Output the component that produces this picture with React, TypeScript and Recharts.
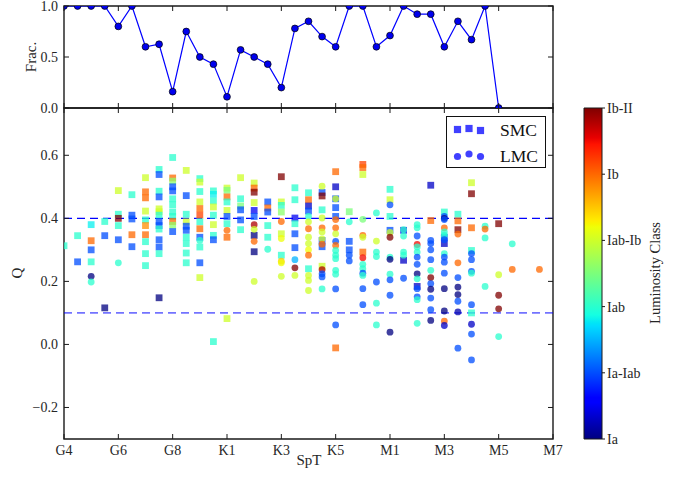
import React from 'react';
import {
  LineChart, Line, ScatterChart, Scatter, XAxis, YAxis, ReferenceLine,
  ReferenceArea, Legend, BarChart, Bar, Label,
} from 'recharts';

const FONT = '"Liberation Serif", "DejaVu Serif", serif';
const TXT = '#262626';
const AX = '#1a1a1a';

// ---------- data ----------
const sptTicks = [0, 2, 4, 6, 8, 10, 12, 14, 16, 18];
const sptTickLabels = ['G4', 'G6', 'G8', 'K1', 'K3', 'K5', 'M1', 'M3', 'M5', 'M7'];

const fracSpt = [0, 0.5, 1, 1.5, 2, 2.5, 3, 3.5, 4, 4.5, 5, 5.5, 6, 6.5, 7, 7.5, 8, 8.5, 9, 9.5, 10, 10.5, 11, 11.5, 12, 12.5, 13, 13.5, 14, 14.5, 15, 15.5, 16];
const fracValues = [1, 1, 1, 1, 0.8, 1, 0.6, 0.625, 0.16, 0.75, 0.5, 0.43, 0.11, 0.57, 0.5, 0.43, 0.2, 0.78, 0.85, 0.7, 0.6, 1, 1, 0.6, 0.71, 1, 0.92, 0.92, 0.6, 0.85, 0.67, 1, 0];
const fracTicks = [0, 0.5, 1];

const qTicks = [-0.2, 0, 0.2, 0.4, 0.6];
const qThresholds = [0.4, 0.1];

const lumTicks = [0, 1, 2, 3, 4, 5];
const lumLabels = ['Ia', 'Ia-Iab', 'Iab', 'Iab-Ib', 'Ib', 'Ib-II'];

const seriesNames = ['SMC', 'LMC'];

// [SpT index, Q, luminosity class]
const smcPoints: [number, number, number][] = [
  [0, 0.313, 2],
  [0.5, 0.345, 2], [0.5, 0.262, 1],
  [1, 0.38, 1.8], [1, 0.329, 4], [1, 0.30, 1], [1, 0.262, 2],
  [1.5, 0.39, 2], [1.5, 0.345, 1], [1.5, 0.116, 0],
  [2, 0.488, 3], [2, 0.413, 2], [2, 0.40, 5], [2, 0.377, 2], [2, 0.332, 1],
  [2.5, 0.475, 2], [2.5, 0.41, 1], [2.5, 0.398, 1], [2.5, 0.348, 4], [2.5, 0.31, 1],
  [3, 0.529, 3], [3, 0.484, 4], [3, 0.465, 4], [3, 0.423, 3], [3, 0.395, 2], [3, 0.377, 3.8], [3, 0.348, 4], [3, 0.326, 2], [3, 0.288, 2], [3, 0.25, 2],
  [3.5, 0.555, 2], [3.5, 0.539, 1], [3.5, 0.486, 2], [3.5, 0.468, 1], [3.5, 0.43, 3], [3.5, 0.421, 3], [3.5, 0.41, 2], [3.5, 0.39, 1], [3.5, 0.377, 1], [3.5, 0.366, 2], [3.5, 0.332, 1], [3.5, 0.309, 1], [3.5, 0.288, 2], [3.5, 0.148, 0],
  [4, 0.593, 2], [4, 0.528, 4], [4, 0.518, 2.6], [4, 0.5, 1], [4, 0.487, 1], [4, 0.462, 2], [4, 0.443, 2], [4, 0.42, 2], [4, 0.406, 2], [4, 0.39, 4], [4, 0.378, 2.6], [4, 0.358, 1],
  [4.5, 0.552, 3], [4.5, 0.472, 1], [4.5, 0.413, 2], [4.5, 0.389, 3], [4.5, 0.375, 1], [4.5, 0.362, 1], [4.5, 0.34, 2], [4.5, 0.32, 2], [4.5, 0.29, 2], [4.5, 0.259, 2],
  [5, 0.526, 2], [5, 0.515, 3], [5, 0.485, 2], [5, 0.452, 3], [5, 0.431, 4], [5, 0.41, 4.2], [5, 0.389, 2], [5, 0.367, 4], [5, 0.34, 1], [5, 0.309, 2], [5, 0.259, 1], [5, 0.212, 3],
  [5.5, 0.487, 2], [5.5, 0.476, 1.8], [5.5, 0.455, 2], [5.5, 0.436, 3], [5.5, 0.41, 2], [5.5, 0.38, 3], [5.5, 0.346, 2], [5.5, 0.332, 1], [5.5, 0.009, 2],
  [6, 0.496, 3], [6, 0.489, 2.5], [6, 0.468, 4], [6, 0.452, 2], [6, 0.425, 3], [6, 0.406, 1], [6, 0.383, 2], [6, 0.34, 4], [6, 0.082, 3],
  [6.5, 0.529, 3], [6.5, 0.462, 2], [6.5, 0.439, 2.5], [6.5, 0.427, 1], [6.5, 0.395, 1], [6.5, 0.364, 2],
  [7, 0.512, 3], [7, 0.496, 4], [7, 0.483, 5], [7, 0.45, 3], [7, 0.425, 0.5], [7, 0.406, 1], [7, 0.346, 0], [7, 0.294, 0],
  [7.5, 0.452, 1], [7.5, 0.433, 4], [7.5, 0.42, 1], [7.5, 0.377, 2], [7.5, 0.34, 2],
  [8, 0.532, 5], [8, 0.452, 3], [8, 0.441, 2], [8, 0.42, 2.6], [8, 0.351, 3], [8, 0.283, 2],
  [8.5, 0.497, 2], [8.5, 0.459, 2], [8.5, 0.401, 0.5], [8.5, 0.383, 2], [8.5, 0.351, 1], [8.5, 0.307, 1],
  [9, 0.481, 2], [9, 0.459, 4], [9, 0.439, 0.3], [9, 0.423, 1], [9, 0.24, 2],
  [9.5, 0.482, 1], [9.5, 0.471, 5], [9.5, 0.427, 2], [9.5, 0.33, 1], [9.5, 0.31, 1], [9.5, 0.248, 3],
  [10, 0.548, 4], [10, 0.5, 0.3], [10, 0.462, 1], [10, 0.434, 1], [10, 0.406, 1], [10, -0.011, 4],
  [10.5, 0.421, 2.5], [10.5, 0.327, 1], [10.5, 0.30, 1],
  [11, 0.571, 4.2], [11, 0.561, 4], [11, 0.539, 3], [11, 0.293, 4],
  [12, 0.492, 2], [12, 0.459, 3], [12, 0.406, 2], [12, 0.362, 1],
  [12.5, 0.362, 0.5], [12.5, 0.267, 0.3],
  [13, 0.184, 0.3],
  [13.5, 0.505, 0.3], [13.5, 0.393, 4],
  [14, 0.42, 2], [14, 0.34, 1], [14, 0.32, 0.3],
  [14.5, 0.413, 2], [14.5, 0.392, 4], [14.5, 0.364, 5],
  [15, 0.513, 3], [15, 0.478, 5], [15, 0.37, 4], [15, 0.298, 2], [15, 0.1, 2],
  [16, 0.383, 5],
];

const lmcPoints: [number, number, number][] = [
  [1, 0.216, 0], [1, 0.198, 2],
  [2, 0.259, 2],
  [5, 0.33, 2],
  [6, 0.362, 4],
  [7, 0.38, 4.8], [7, 0.365, 3], [7, 0.327, 4], [7, 0.2, 3],
  [7.5, 0.302, 2],
  [8, 0.39, 4], [8, 0.336, 3.2], [8, 0.264, 3.5], [8, 0.259, 3.2], [8, 0.216, 3],
  [8.5, 0.269, 1.5], [8.5, 0.243, 5], [8.5, 0.219, 3],
  [9, 0.406, 2], [9, 0.389, 3], [9, 0.367, 4], [9, 0.34, 3], [9, 0.32, 3], [9, 0.3, 3.2], [9, 0.283, 4], [9, 0.219, 3], [9, 0.203, 3], [9, 0.171, 3],
  [9.5, 0.502, 3], [9.5, 0.401, 3], [9.5, 0.37, 4], [9.5, 0.357, 3], [9.5, 0.335, 3], [9.5, 0.318, 4], [9.5, 0.237, 4.8], [9.5, 0.224, 1], [9.5, 0.214, 1], [9.5, 0.176, 2],
  [10, 0.462, 3], [10, 0.396, 4], [10, 0.37, 4], [10, 0.351, 3], [10, 0.327, 1], [10, 0.314, 4], [10, 0.298, 2], [10, 0.283, 2], [10, 0.272, 2], [10, 0.235, 2], [10, 0.223, 2], [10, 0.176, 1], [10, 0.062, 1],
  [10.5, 0.389, 2], [10.5, 0.283, 1], [10.5, 0.265, 1],
  [11, 0.397, 2.5], [11, 0.346, 4], [11, 0.34, 3], [11, 0.275, 4.5], [11, 0.254, 2], [11, 0.24, 2], [11, 0.226, 1], [11, 0.219, 2], [11, 0.177, 1], [11, 0.126, 1],
  [11.5, 0.417, 2], [11.5, 0.328, 3], [11.5, 0.293, 2], [11.5, 0.279, 2], [11.5, 0.198, 1], [11.5, 0.131, 2], [11.5, 0.062, 2],
  [12, 0.443, 1], [12, 0.355, 3], [12, 0.34, 5], [12, 0.277, 2], [12, 0.27, 0], [12, 0.223, 2], [12, 0.205, 1], [12, 0.156, 1], [12, 0.039, 0],
  [12.5, 0.364, 2], [12.5, 0.344, 2], [12.5, 0.293, 2], [12.5, 0.283, 2], [12.5, 0.21, 1],
  [13, 0.38, 2], [13, 0.37, 2], [13, 0.344, 1], [13, 0.317, 4.5], [13, 0.309, 2], [13, 0.293, 2], [13, 0.277, 1], [13, 0.254, 1], [13, 0.224, 0], [13, 0.208, 2], [13, 0.177, 1], [13, 0.151, 1], [13, 0.142, 2], [13, 0.067, 2],
  [13.5, 0.33, 1], [13.5, 0.32, 1], [13.5, 0.3, 1], [13.5, 0.269, 1], [13.5, 0.235, 2], [13.5, 0.212, 5], [13.5, 0.193, 1], [13.5, 0.175, 0], [13.5, 0.147, 1], [13.5, 0.11, 1], [13.5, 0.076, 0],
  [14, 0.406, 1], [14, 0.4, 0], [14, 0.396, 1], [14, 0.37, 4], [14, 0.357, 2], [14, 0.346, 2], [14, 0.332, 1], [14, 0.288, 2], [14, 0.277, 1], [14, 0.261, 1], [14, 0.226, 1], [14, 0.177, 0], [14, 0.106, 0], [14, 0.074, 4], [14, 0.06, 0.3],
  [14.5, 0.35, 4], [14.5, 0.259, 4], [14.5, 0.212, 1], [14.5, 0.182, 0], [14.5, 0.158, 0], [14.5, 0.137, 1], [14.5, 0.103, 0.2], [14.5, -0.012, 1],
  [15, 0.288, 1], [15, 0.269, 1], [15, 0.232, 1], [15, 0.226, 2], [15, 0.126, 1], [15, 0.064, 0.3], [15, 0.033, 1], [15, -0.049, 1],
  [15.5, 0.375, 2], [15.5, 0.366, 4], [15.5, 0.338, 2], [15.5, 0.184, 2],
  [16, 0.221, 3], [16, 0.156, 5], [16, 0.113, 5], [16, 0.025, 2],
  [16.5, 0.319, 2], [16.5, 0.238, 4],
  [17.5, 0.238, 4],
];

// ---------- helpers ----------
const fracData = fracSpt.map((s, i) => ({ spt: s, frac: fracValues[i] }));
const toObj = (arr: [number, number, number][]) => arr.map(([spt, q, lc]) => ({ spt, q, lc }));
const smcData = toObj(smcPoints);
const lmcData = toObj(lmcPoints);

const JR: [number, number][] = [[0, 0], [0.35, 0], [0.66, 1], [0.89, 1], [1, 0.5]];
const JG: [number, number][] = [[0, 0], [0.125, 0], [0.375, 1], [0.64, 1], [0.91, 0], [1, 0]];
const JB: [number, number][] = [[0, 0.5], [0.11, 1], [0.34, 1], [0.65, 0], [1, 0]];
function interp(pts: [number, number][], t: number) {
  for (let i = 0; i < pts.length - 1; i++) {
    const [x0, y0] = pts[i];
    const [x1, y1] = pts[i + 1];
    if (t <= x1) return y0 + ((y1 - y0) * (t - x0)) / (x1 - x0);
  }
  return pts[pts.length - 1][1];
}
function jet(t: number) {
  const c = Math.max(0, Math.min(1, t));
  const r = Math.round(interp(JR, c) * 255);
  const g = Math.round(interp(JG, c) * 255);
  const b = Math.round(interp(JB, c) * 255);
  return `rgb(${r},${g},${b})`;
}
const lumMax = lumTicks[lumTicks.length - 1];
const gradStops = [0, 0.05, 0.11, 0.125, 0.2, 0.25, 0.34, 0.35, 0.375, 0.45, 0.5, 0.55, 0.64, 0.65, 0.66, 0.75, 0.8, 0.89, 0.91, 0.95, 1];

const fmtNum = (v: number) => v.toFixed(1).replace('-', '\u2212');

// plot geometry (layout only)
const PLOT_L = 64;
const PLOT_W = 489;
const TOP_Y = 6;
const TOP_H = 102;
const BOT_Y = 108;
const BOT_H = 331;

const makeXTick = (plotH: number, labels: boolean) => (props: any) => {
  const { x, y, payload } = props;
  const idx = sptTicks.indexOf(payload.value);
  return (
    <g>
      <line x1={x} y1={y} x2={x} y2={y - 5} stroke={AX} strokeWidth={1} />
      <line x1={x} y1={y - plotH} x2={x} y2={y - plotH + 5} stroke={AX} strokeWidth={1} />
      {labels && (
        <text x={x} y={y + 16} textAnchor="middle" fontFamily={FONT} fontSize={14} fill={TXT}>
          {sptTickLabels[idx]}
        </text>
      )}
    </g>
  );
};

const makeYTick = () => (props: any) => {
  const { x, y, payload } = props;
  return (
    <g>
      <line x1={x} y1={y} x2={x + 5} y2={y} stroke={AX} strokeWidth={1} />
      <line x1={x + PLOT_W} y1={y} x2={x + PLOT_W - 5} y2={y} stroke={AX} strokeWidth={1} />
      <text x={x - 6} y={y} dy={4.8} textAnchor="end" fontFamily={FONT} fontSize={14} fill={TXT}>
        {fmtNum(payload.value)}
      </text>
    </g>
  );
};

const SquareShape = (p: any) => (
  <rect x={p.cx - 3.4} y={p.cy - 3.4} width={6.8} height={6.8} fill={jet(p.payload.lc / lumMax)} fillOpacity={0.75} clipPath="url(#botClip)" />
);
const CircleShape = (p: any) => (
  <circle cx={p.cx} cy={p.cy} r={3.4} fill={jet(p.payload.lc / lumMax)} fillOpacity={0.75} clipPath="url(#botClip)" />
);
const FracDot = (p: any) => (
  <circle key={p.index} cx={p.cx} cy={p.cy} r={3.4} fill="#0000ee" stroke="#000" strokeWidth={0.7} clipPath="url(#topClip)" />
);

const LegendBox = () => (
  <div style={{ width: 100, height: 52, border: '1.3px solid #111', background: '#fff', boxSizing: 'border-box' }}>
    <svg width={98} height={50} style={{ display: 'block' }}>
      {[[10.5, 12.5], [22, 11.5], [33.5, 13.5]].map(([cx, cy], i) => (
        <rect key={'s' + i} x={cx - 3.6} y={cy - 3.6} width={7.2} height={7.2} fill="#0000ff" fillOpacity={0.75} />
      ))}
      {[[10.5, 39.5], [22, 37], [33.5, 39.5]].map(([cx, cy], i) => (
        <circle key={'c' + i} cx={cx} cy={cy} r={3.6} fill="#0000ff" fillOpacity={0.75} />
      ))}
      <text x={53} y={19} fontFamily={FONT} fontSize={17.5} fill="#111">{seriesNames[0]}</text>
      <text x={53} y={45} fontFamily={FONT} fontSize={17.5} fill="#111">{seriesNames[1]}</text>
    </svg>
  </div>
);

const abs: React.CSSProperties = { position: 'absolute', left: 0, top: 0 };

export default function App() {
  return (
    <div style={{ position: 'absolute', left: 0, top: 0, width: 681, height: 477, background: '#fff' }}>
      {/* Bottom panel: Q vs SpT */}
      <div style={abs}>
        <ScatterChart width={681} height={477} margin={{ top: 108, right: 128, bottom: 8, left: 0 }}>
          <defs>
            <clipPath id="botClip">
              <rect x={PLOT_L} y={BOT_Y} width={PLOT_W} height={BOT_H} />
            </clipPath>
          </defs>
          <XAxis
            type="number" dataKey="spt" domain={[0, 18]} ticks={sptTicks} interval={0}
            allowDataOverflow height={30} tickSize={0} tickMargin={0} tickLine={false} axisLine={false}
            tick={makeXTick(BOT_H, true)}
          >
            <Label content={() => (
              <text x={309} y={465} textAnchor="middle" fontFamily={FONT} fontSize={15} fill={TXT}>SpT</text>
            )} />
          </XAxis>
          <YAxis
            type="number" dataKey="q" domain={[-0.3, 0.75]} ticks={qTicks} interval={0}
            allowDataOverflow width={64} tickSize={0} tickMargin={0} tickLine={false} axisLine={false}
            tick={makeYTick()}
          >
            <Label content={() => (
              <text x={17} y={273} transform="rotate(-90 17 273)" textAnchor="middle" dominantBaseline="central" fontFamily={FONT} fontSize={15} fill={TXT}>Q</text>
            )} />
          </YAxis>
          <Scatter name={seriesNames[0]} data={smcData} shape={SquareShape} isAnimationActive={false} />
          <Scatter name={seriesNames[1]} data={lmcData} shape={CircleShape} isAnimationActive={false} />
          <ReferenceLine y={qThresholds[0]} stroke="#0000ff" strokeWidth={1.3} strokeDasharray="8 5" />
          <ReferenceLine y={qThresholds[1]} stroke="#0000ff" strokeOpacity={0.55} strokeWidth={1.6} strokeDasharray="8 5" />
          <ReferenceArea x1={0} x2={18} y1={-0.3} y2={0.75} fill="none" stroke={AX} strokeWidth={1.4} />
          <Legend
            layout="vertical" align="center" verticalAlign="middle"
            wrapperStyle={{ left: 446, top: 116, width: 100, height: 52 }}
            content={() => <LegendBox />}
          />
        </ScatterChart>
      </div>

      {/* Top panel: fraction */}
      <div style={abs}>
        <LineChart width={681} height={130} data={fracData} margin={{ top: 6, right: 128, bottom: 0, left: 0 }}>
          <defs>
            <clipPath id="topClip">
              <rect x={PLOT_L} y={TOP_Y} width={PLOT_W} height={TOP_H} />
            </clipPath>
          </defs>
          <XAxis
            type="number" dataKey="spt" domain={[0, 18]} ticks={sptTicks} interval={0}
            allowDataOverflow height={22} tickSize={0} tickMargin={0} tickLine={false} axisLine={false}
            tick={makeXTick(TOP_H, false)}
          />
          <YAxis
            type="number" domain={[0, 1]} ticks={fracTicks} interval={0}
            allowDataOverflow width={64} tickSize={0} tickMargin={0} tickLine={false} axisLine={false}
            tick={makeYTick()}
          >
            <Label content={() => (
              <text x={31} y={57} transform="rotate(-90 31 57)" textAnchor="middle" dominantBaseline="central" fontFamily={FONT} fontSize={15} fill={TXT}>Frac.</text>
            )} />
          </YAxis>
          <Line
            type="linear" dataKey="frac" stroke="#0000ff" strokeWidth={1.2} isAnimationActive={false}
            dot={FracDot} activeDot={false}
          />
          <ReferenceArea x1={0} x2={18} y1={0} y2={1} fill="none" stroke={AX} strokeWidth={1.4} />
        </LineChart>
      </div>

      {/* Colorbar */}
      <div style={abs}>
        <BarChart
          width={681} height={477} data={[{ k: 'lum', v: lumMax }]}
          margin={{ top: 108, right: 19, bottom: 38, left: 584 }} barCategoryGap={0}
        >
          <defs>
            <linearGradient id="jetGrad" x1="0" y1="1" x2="0" y2="0">
              {gradStops.map((t) => (
                <stop key={t} offset={t} stopColor={jet(t)} />
              ))}
            </linearGradient>
          </defs>
          <XAxis dataKey="k" type="category" hide padding={{ left: 0, right: 0 }} />
          <YAxis
            orientation="right" type="number" domain={[0, lumMax]} ticks={lumTicks} interval={0}
            width={60} tickSize={3} tickMargin={2} axisLine={false}
            tickLine={{ stroke: AX }}
            tick={{ fontFamily: FONT, fontSize: 14, fill: TXT }}
            tickFormatter={(v: number) => lumLabels[lumTicks.indexOf(v)]}
          >
            <Label content={() => (
              <text x={655} y={273} transform="rotate(-90 655 273)" textAnchor="middle" dominantBaseline="central" fontFamily={FONT} fontSize={14.5} fill={TXT}>Luminosity Class</text>
            )} />
          </YAxis>
          <Bar dataKey="v" fill="url(#jetGrad)" stroke={AX} strokeWidth={1} isAnimationActive={false} />
        </BarChart>
      </div>
    </div>
  );
}
